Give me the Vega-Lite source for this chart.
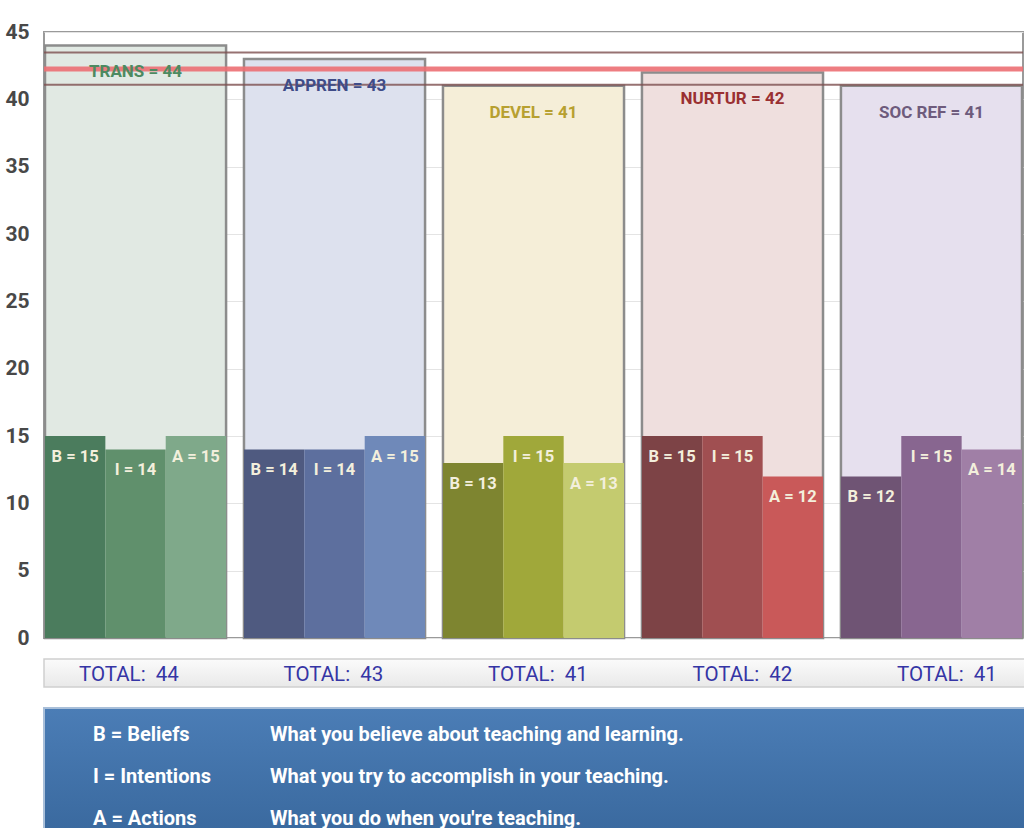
{
  "$schema": "https://vega.github.io/schema/vega-lite/v6.json",
  "padding": {"left": 3, "top": 20, "right": 0, "bottom": 0},
  "background": "white",
  "bounds": "flush",
  "spacing": 21,
  "config": {
    "font": "Roboto"
  },
  "datasets": {
    "totals": [
      {"group": "TRANS", "total": 44, "label": "TRANS = 44", "totalText": "TOTAL:\u00a0\u00a044"},
      {"group": "APPREN", "total": 43, "label": "APPREN = 43", "totalText": "TOTAL:\u00a0\u00a043"},
      {"group": "DEVEL", "total": 41, "label": "DEVEL = 41", "totalText": "TOTAL:\u00a0\u00a041"},
      {"group": "NURTUR", "total": 42, "label": "NURTUR = 42", "totalText": "TOTAL:\u00a0\u00a042"},
      {"group": "SOC REF", "total": 41, "label": "SOC REF = 41", "totalText": "TOTAL:\u00a0\u00a041"}
    ],
    "subs": [
      {"group": "TRANS", "part": "B", "key": "TRANS-B", "value": 15, "label": "B = 15"},
      {"group": "TRANS", "part": "I", "key": "TRANS-I", "value": 14, "label": "I = 14"},
      {"group": "TRANS", "part": "A", "key": "TRANS-A", "value": 15, "label": "A = 15"},
      {"group": "APPREN", "part": "B", "key": "APPREN-B", "value": 14, "label": "B = 14"},
      {"group": "APPREN", "part": "I", "key": "APPREN-I", "value": 14, "label": "I = 14"},
      {"group": "APPREN", "part": "A", "key": "APPREN-A", "value": 15, "label": "A = 15"},
      {"group": "DEVEL", "part": "B", "key": "DEVEL-B", "value": 13, "label": "B = 13"},
      {"group": "DEVEL", "part": "I", "key": "DEVEL-I", "value": 15, "label": "I = 15"},
      {"group": "DEVEL", "part": "A", "key": "DEVEL-A", "value": 13, "label": "A = 13"},
      {"group": "NURTUR", "part": "B", "key": "NURTUR-B", "value": 15, "label": "B = 15"},
      {"group": "NURTUR", "part": "I", "key": "NURTUR-I", "value": 15, "label": "I = 15"},
      {"group": "NURTUR", "part": "A", "key": "NURTUR-A", "value": 12, "label": "A = 12"},
      {"group": "SOC REF", "part": "B", "key": "SOC REF-B", "value": 12, "label": "B = 12"},
      {"group": "SOC REF", "part": "I", "key": "SOC REF-I", "value": 15, "label": "I = 15"},
      {"group": "SOC REF", "part": "A", "key": "SOC REF-A", "value": 14, "label": "A = 14"}
    ],
    "lines": [
      {"kind": "mean", "v": 42.26},
      {"kind": "band", "v": 43.48},
      {"kind": "band", "v": 41.08}
    ],
    "legend": [
      {"row": "B", "part": "k", "text": "B = Beliefs"},
      {"row": "B", "part": "d", "text": "What you believe about teaching and learning."},
      {"row": "I", "part": "k", "text": "I = Intentions"},
      {"row": "I", "part": "d", "text": "What you try to accomplish in your teaching."},
      {"row": "A", "part": "k", "text": "A = Actions"},
      {"row": "A", "part": "d", "text": "What you do when you're teaching."}
    ]
  },
  "vconcat": [
    {
      "width": 979,
      "height": 606,
      "view": {"stroke": "#9a9a9a", "strokeWidth": 2},
      "encoding": {
        "x": {
          "field": "group", "type": "nominal", "sort": null,
          "scale": {"domain": ["TRANS", "APPREN", "DEVEL", "NURTUR", "SOC REF"], "paddingInner": 0.09, "paddingOuter": 0.005},
          "axis": null
        }
      },
      "layer": [
        {
          "data": {"name": "totals"},
          "mark": {"type": "bar", "stroke": "#8c8c8c", "strokeWidth": 2.5},
          "encoding": {
            "y": {
              "field": "total", "type": "quantitative",
              "scale": {"domain": [0, 45], "nice": false},
              "axis": {
                "values": [0, 5, 10, 15, 20, 25, 30, 35, 40, 45],
                "title": null, "domain": false, "ticks": false,
                "labelFontSize": 21, "labelFontWeight": "bold", "labelColor": "#484848",
                "labelPadding": 15, "minExtent": 40, "maxExtent": 40,
                "gridColor": "#e4e4e4", "gridWidth": 1
              }
            },
            "fill": {
              "field": "group", "type": "nominal", "legend": null,
              "scale": {
                "domain": ["TRANS", "APPREN", "DEVEL", "NURTUR", "SOC REF"],
                "range": ["#e1e9e3", "#dde1ee", "#f5eed8", "#efdfde", "#e6e0ee"]
              }
            }
          }
        },
        {
          "data": {"name": "subs"},
          "mark": {"type": "bar"},
          "encoding": {
            "xOffset": {"field": "part", "type": "nominal", "sort": null, "scale": {"domain": ["B", "I", "A"], "paddingInner": 0, "paddingOuter": 0}},
            "y": {"field": "value", "type": "quantitative"},
            "color": {
              "field": "key", "type": "nominal", "legend": null,
              "scale": {
                "domain": ["TRANS-B", "TRANS-I", "TRANS-A", "APPREN-B", "APPREN-I", "APPREN-A", "DEVEL-B", "DEVEL-I", "DEVEL-A", "NURTUR-B", "NURTUR-I", "NURTUR-A", "SOC REF-B", "SOC REF-I", "SOC REF-A", "TRANS", "APPREN", "DEVEL", "NURTUR", "SOC REF"],
                "range": ["#4b7c5d", "#60906c", "#7fa98a", "#4f5a80", "#5d6f9e", "#6f89b9", "#7e8530", "#a0a83a", "#c4cb6f", "#7d4346", "#a04f51", "#c95959", "#6f5474", "#886690", "#a07fa6", "#4d8a60", "#3f4c88", "#b7a030", "#9a3032", "#6e5b7c"]
              }
            }
          }
        },
        {
          "data": {"name": "lines"},
          "transform": [{"filter": "datum.kind === 'band'"}],
          "mark": {"type": "rule", "color": "#7d4f4f", "strokeWidth": 2, "opacity": 0.8},
          "encoding": {"y": {"field": "v", "type": "quantitative"}, "x": null}
        },
        {
          "data": {"name": "lines"},
          "transform": [{"filter": "datum.kind === 'mean'"}],
          "mark": {"type": "rule", "color": "#ec6f73", "strokeWidth": 5, "opacity": 0.9},
          "encoding": {"y": {"field": "v", "type": "quantitative"}, "x": null}
        },
        {
          "data": {"name": "totals"},
          "mark": {"type": "text", "baseline": "middle", "dy": 27, "fontSize": 17, "fontWeight": "bold"},
          "encoding": {
            "y": {"field": "total", "type": "quantitative"},
            "text": {"field": "label"},
            "color": {"field": "group", "type": "nominal", "legend": null}
          }
        },
        {
          "data": {"name": "subs"},
          "mark": {"type": "text", "baseline": "middle", "dy": 21, "fontSize": 16.5, "fontWeight": "bold", "color": "#f3efdc"},
          "encoding": {
            "xOffset": {"field": "part", "type": "nominal", "sort": null},
            "y": {"field": "value", "type": "quantitative"},
            "text": {"field": "label"}
          }
        }
      ]
    },
    {
      "width": 981,
      "height": 28,
      "data": {"name": "totals"},
      "view": {
        "stroke": "#cfcfcf", "strokeWidth": 1.5,
        "fill": {"gradient": "linear", "x1": 0, "y1": 0, "x2": 0, "y2": 1, "stops": [{"offset": 0, "color": "#fbfbfb"}, {"offset": 1, "color": "#e9e9e9"}]}
      },
      "mark": {"type": "text", "fontSize": 20.5, "color": "#3535a5", "align": "left", "dy": 2},
      "encoding": {
        "x": {
          "field": "group", "type": "nominal", "sort": null,
          "scale": {"type": "point", "domain": ["TRANS", "APPREN", "DEVEL", "NURTUR", "SOC REF"], "range": [35, 853], "padding": 0},
          "axis": null
        },
        "text": {"field": "totalText"}
      }
    },
    {
      "width": 982,
      "height": 138,
      "data": {"name": "legend"},
      "view": {
        "stroke": "#a9bfd9", "strokeWidth": 2,
        "fill": {"gradient": "linear", "x1": 0, "y1": 0, "x2": 0, "y2": 1, "stops": [{"offset": 0, "color": "#4b7db6"}, {"offset": 1, "color": "#38679c"}]}
      },
      "mark": {"type": "text", "align": "left", "baseline": "middle", "fontSize": 20, "fontWeight": "bold", "color": "#ffffff"},
      "encoding": {
        "x": {"field": "part", "type": "nominal", "scale": {"type": "point", "domain": ["k", "d"], "range": [49, 226], "padding": 0}, "axis": null},
        "y": {"field": "row", "type": "nominal", "scale": {"type": "point", "domain": ["B", "I", "A"], "padding": 0.643}, "axis": null},
        "text": {"field": "text"}
      }
    }
  ]
}
